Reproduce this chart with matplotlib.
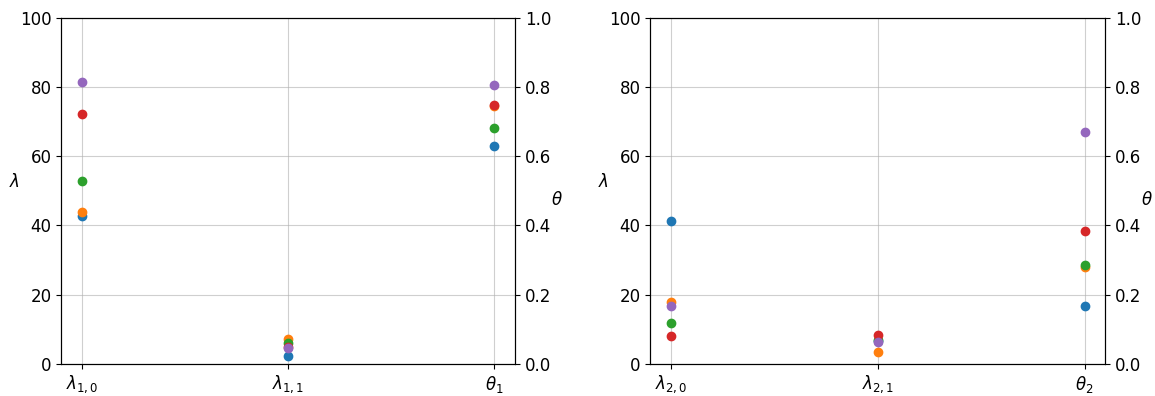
import numpy as np
import matplotlib
matplotlib.use('Agg')
import matplotlib.pyplot as plt

plt.rcParams.update({'font.size': 12})

colors = ['tab:blue', 'tab:orange', 'tab:green', 'tab:red', 'tab:purple']

# panel 1: lambda_{1,0}, lambda_{1,1} (left axis), theta_1 (right axis)
lam10 = [42.8, 43.9, 52.9, 72.3, 81.5]
lam11 = [2.3, 7.3, 6.1, 4.8, 4.6]
theta1 = [0.631, 0.745, 0.683, 0.747, 0.806]

# panel 2
lam20 = [41.3, 17.8, 11.9, 8.2, 16.8]
lam21 = [6.6, 3.4, 7.0, 8.4, 6.3]
theta2 = [0.166, 0.279, 0.285, 0.384, 0.671]

labels1 = [r'$\lambda_{1,0}$', r'$\lambda_{1,1}$', r'$\theta_1$']
labels2 = [r'$\lambda_{2,0}$', r'$\lambda_{2,1}$', r'$\theta_2$']

fig = plt.figure(figsize=(11.55, 3.96), dpi=100)
ax_a = fig.add_axes([0.053, 0.081, 0.393, 0.874])
ax_b = fig.add_axes([0.563, 0.081, 0.394, 0.874])

panels = [(ax_a, lam10, lam11, theta1, labels1),
          (ax_b, lam20, lam21, theta2, labels2)]

for ax1, l0, l1, th, lbls in panels:
	ax2 = ax1.twinx()
	for i in range(5):
		ax1.scatter([0, 1], [l0[i], l1[i]], color=colors[i], zorder=3)
		ax2.scatter([2], [th[i]], color=colors[i], zorder=3)
	ax1.set_xlim(-0.1, 2.1)
	ax1.set_ylim(0, 100)
	ax2.set_ylim(0, 1.0)
	ax1.set_xticks([0, 1, 2])
	ax1.set_xticklabels(lbls)
	ax1.set_ylabel(r'$\lambda$', rotation=0)
	ax2.set_ylabel(r'$\theta$', rotation=0)
	ax1.grid(True, color='#b0b0b0', alpha=0.6)
	ax1.set_axisbelow(True)

fig.savefig('out.png', dpi=100)
plt.close()
